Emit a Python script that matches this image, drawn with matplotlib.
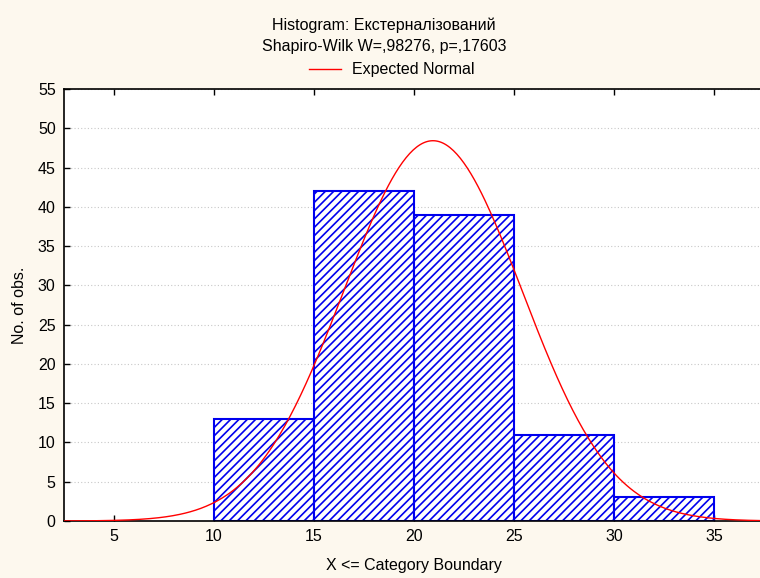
import numpy as np
import matplotlib
matplotlib.use("Agg")
import matplotlib.pyplot as plt

# histogram
bin_left = [10, 15, 20, 25, 30]
counts = [13, 42, 39, 11, 3]
bin_width = 5
# expected normal parameters (estimated from the curve)
mean_x = 20.95
sd_x = 4.45
n_obs = sum(counts)

xticks = [5, 10, 15, 20, 25, 30, 35]
yticks = list(range(0, 60, 5))

plt.rcParams['font.family'] = ['Liberation Sans', 'DejaVu Sans']
plt.rcParams['hatch.linewidth'] = 1.2
plt.rcParams['hatch.color'] = '#0000ee'

bg = '#fdf8ee'
fs = 11.5
fig = plt.figure(figsize=(7.6, 5.78), dpi=100, facecolor=bg)
ax = fig.add_axes([0.0842, 0.0986, 0.921, 0.7475])
ax.set_facecolor('white')

ax.bar(bin_left, counts, width=bin_width, align='edge', color='white',
       edgecolor='#0000ee', linewidth=1.5, hatch='////', zorder=2)

xs = np.linspace(2.5, 37.5, 400)
ys = n_obs * bin_width / (sd_x * np.sqrt(2 * np.pi)) * np.exp(-0.5 * ((xs - mean_x) / sd_x) ** 2)
ax.plot(xs, ys, color='#ff0000', lw=1.0, zorder=3, label='Expected Normal')

ax.set_xlim(2.5, 37.5)
ax.set_ylim(0, 55)
ax.set_xticks(xticks)
ax.set_yticks(yticks)
ax.grid(axis='y', color='#c8c8c8', linestyle=(0, (1, 2)), linewidth=0.8, zorder=0)
ax.tick_params(axis='both', direction='in', labelsize=fs, length=4, width=1,
               colors='black', pad=6)
ax.tick_params(axis='x', top=True, pad=6)
ax.spines['right'].set_visible(False)
for s in ['left', 'bottom', 'top']:
    ax.spines[s].set_linewidth(1.2)

ax.set_xlabel('X <= Category Boundary', fontsize=fs, labelpad=10)
ax.set_ylabel('No. of obs.', fontsize=fs, labelpad=8)

fig.text(0.505, 0.957, 'Histogram: Екстерналізований', ha='center', va='center', fontsize=fs)
fig.text(0.505, 0.919, 'Shapiro-Wilk W=,98276, p=,17603', ha='center', va='center', fontsize=fs)
fig.legend(loc='center', bbox_to_anchor=(0.515, 0.879), frameon=False, fontsize=fs,
           handlelength=2.0, handletextpad=0.7)

fig.savefig('out.png', dpi=100, facecolor=bg)
